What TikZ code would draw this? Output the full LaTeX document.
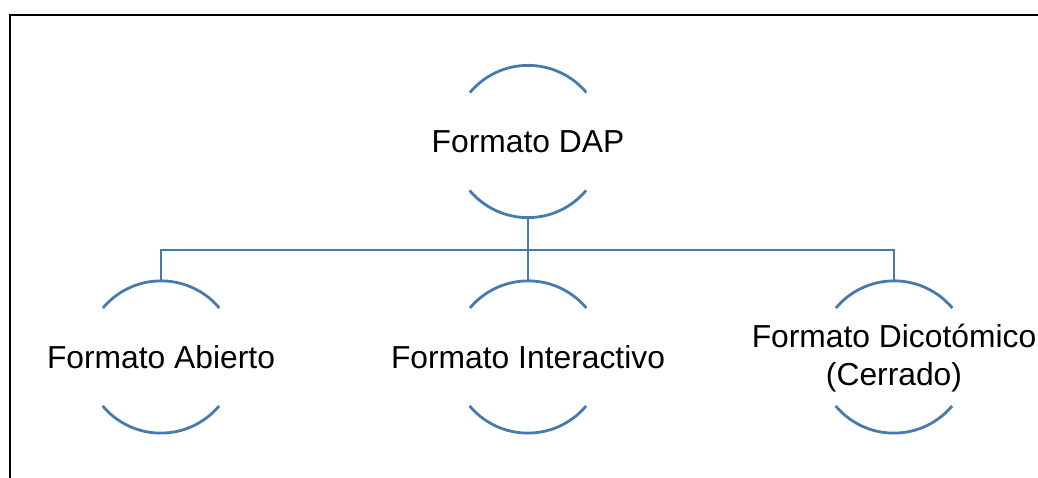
\documentclass[tikz,border=0pt]{standalone}
\usepackage{fontspec}
\setmainfont{Liberation Sans}
\definecolor{smartblue}{RGB}{70,123,175}
\tikzset{
  fmt/.style={circle, minimum size=152pt, inner sep=0pt},
  fmttext/.style={align=center, font=\fontsize{31.8}{38}\selectfont},
  arcline/.style={draw=smartblue, line width=2.8pt},
  conn/.style={draw=smartblue, line width=2.8pt}
}

\begin{document}
\begin{tikzpicture}[x=1pt, y=1pt]
		\useasboundingbox (0,0) rectangle (1038,478);
		\draw[line width=2.3pt] (10,0) -- (10,463) -- (1038,463);

		\node[fmt] (dap) at (528,336.5) {};
		\node[fmt] (abierto) at (161,121) {};
		\node[fmt] (inter) at (528,121) {};
		\node[fmt] (dicot) at (894,121) {};
		\node[fmttext] (daptext) at (dap) {Formato DAP};
		\node[fmttext] (abiertotext) at (abierto) {Formato Abierto};
		\node[fmttext] (intertext) at (inter) {Formato Interactivo};
		\node[fmttext] (dicottext) at ([yshift=-1pt]dicot) {Formato Dicotómico\\(Cerrado)};

		\draw[arcline] (dap.40) arc[start angle=40, end angle=140, radius=76pt];
		\draw[arcline] (dap.220) arc[start angle=220, end angle=320, radius=76pt];
		\draw[arcline] (abierto.40) arc[start angle=40, end angle=140, radius=76pt];
		\draw[arcline] (abierto.220) arc[start angle=220, end angle=320, radius=76pt];
		\draw[arcline] (inter.40) arc[start angle=40, end angle=140, radius=76pt];
		\draw[arcline] (inter.220) arc[start angle=220, end angle=320, radius=76pt];
		\draw[arcline] (dicot.40) arc[start angle=40, end angle=140, radius=76pt];
		\draw[arcline] (dicot.220) arc[start angle=220, end angle=320, radius=76pt];

		\coordinate (split) at (528,228);
		\draw[conn] (dap.south) -- (inter.north);
		\draw[conn] (abierto.north) |- (split) -| (dicot.north);
\end{tikzpicture}
\end{document}
